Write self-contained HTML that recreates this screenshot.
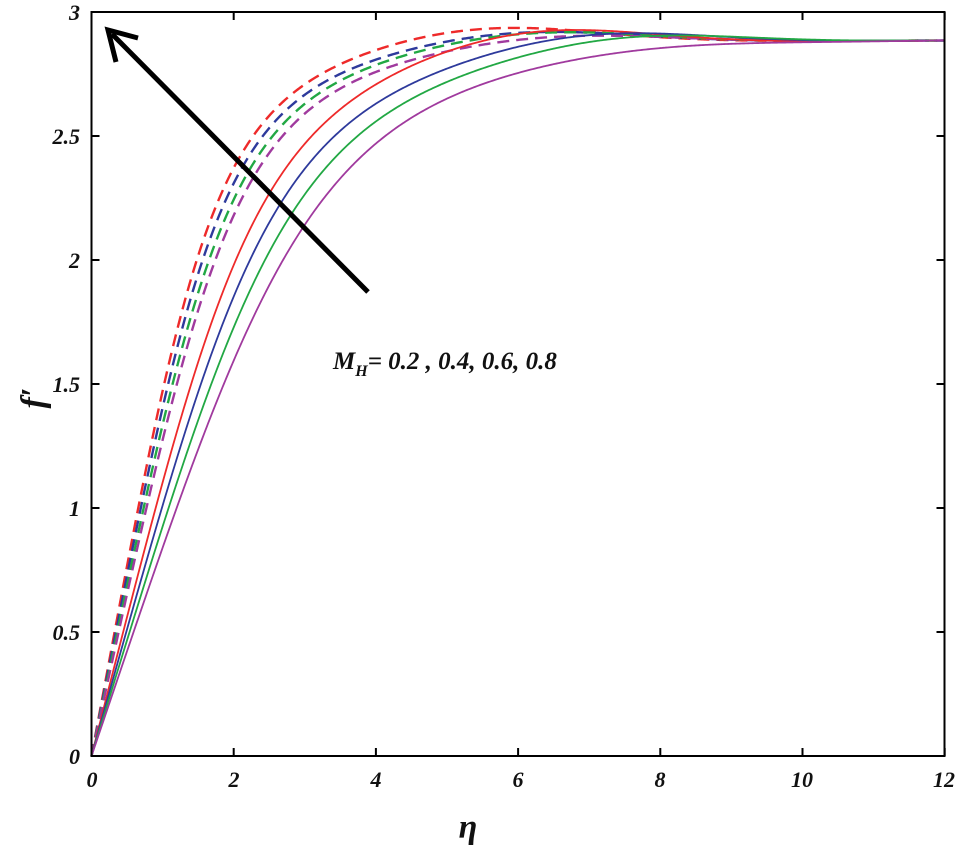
<!DOCTYPE html>
<html><head><meta charset="utf-8"><style>
html,body{margin:0;padding:0;background:#fff;}
svg{display:block;}
text{font-family:"Liberation Serif",serif;font-style:italic;font-weight:bold;fill:#111;}
</style></head><body>
<svg id="s" width="962" height="850" viewBox="0 0 962 850" xmlns="http://www.w3.org/2000/svg">
<g id="curves"></g>
<rect x="91.5" y="12" width="853" height="744" fill="none" stroke="#000" stroke-width="2"/>
<g id="ticks" stroke="#000" stroke-width="2"></g>
<g font-size="22" text-anchor="end">
<text x="80" y="764">0</text><text x="80" y="640">0.5</text><text x="80" y="516">1</text>
<text x="80" y="392">1.5</text><text x="80" y="268">2</text><text x="80" y="144">2.5</text><text x="80" y="20">3</text>
</g>
<g font-size="22" text-anchor="middle">
<text x="92" y="787">0</text><text x="234" y="787">2</text><text x="376" y="787">4</text>
<text x="518" y="787">6</text><text x="660" y="787">8</text><text x="802" y="787">10</text><text x="944" y="787">12</text>
</g>
<text x="468" y="838" font-size="34" text-anchor="middle">η</text>
<text transform="translate(44,398) rotate(-90)" font-size="34" text-anchor="middle">f′</text>
<text x="333" y="369" font-size="25">M<tspan font-size="16" dy="7">H</tspan><tspan dy="-7">= 0.2 , 0.4, 0.6, 0.8</tspan></text>
<line x1="368" y1="292" x2="112" y2="34" stroke="#000" stroke-width="5"/>
<polyline points="116,62 108,30 138,38" fill="none" stroke="#000" stroke-width="5"/>
</svg>
<script>
const X=e=>91.5+e*71.1, Y=f=>756-f*248, S=2.885, P=3;
const curves=[
 ["#ee2a2a",1,1.54,0.08,5.5,2.2],
 ["#2e3a9c",1,1.46,0.06,6.0,2.2],
 ["#22a844",1,1.38,0.06,6.2,2.2],
 ["#a03a9e",1,1.31,0.045,6.5,2.2],
 ["#ee2a2a",0,1.12,0.09,6.2,2.2],
 ["#2e3a9c",0,1.02,0.07,7.0,2.2],
 ["#22a844",0,0.93,0.06,7.5,2.2],
 ["#a03a9e",0,0.84,0.02,8.0,2.2],
];
const g=u=>u/Math.pow(1+Math.pow(u,P),1/P);
let html="";
for(const [c,dash,k,B,ce,w] of curves){
 const n=g(k*12/S);
 const f=x=>S*g(k*x/S)/n+B*Math.exp(-Math.pow((x-ce)/w,2))*(1-Math.exp(-x*x));
 let p="";
 for(let i=0;i<=600;i++){const x=i*0.02;p+=(i?"L":"M")+X(x).toFixed(2)+","+Y(f(x)).toFixed(2);}
 html+=`<path d="${p}" fill="none" stroke="${c}" stroke-width="${dash?2.4:1.8}" ${dash?'stroke-dasharray="12 7"':''}/>`;
}
document.getElementById("curves").innerHTML=html;
let t="";
for(let i=0;i<=6;i++){const x=X(2*i);t+=`<line x1="${x}" y1="756" x2="${x}" y2="748"/><line x1="${x}" y1="12" x2="${x}" y2="20"/>`;}
for(let i=0;i<=6;i++){const y=Y(i*0.5);t+=`<line x1="91.5" y1="${y}" x2="99.5" y2="${y}"/><line x1="944.5" y1="${y}" x2="936.5" y2="${y}"/>`;}
document.getElementById("ticks").innerHTML=t;
</script>
</body></html>
